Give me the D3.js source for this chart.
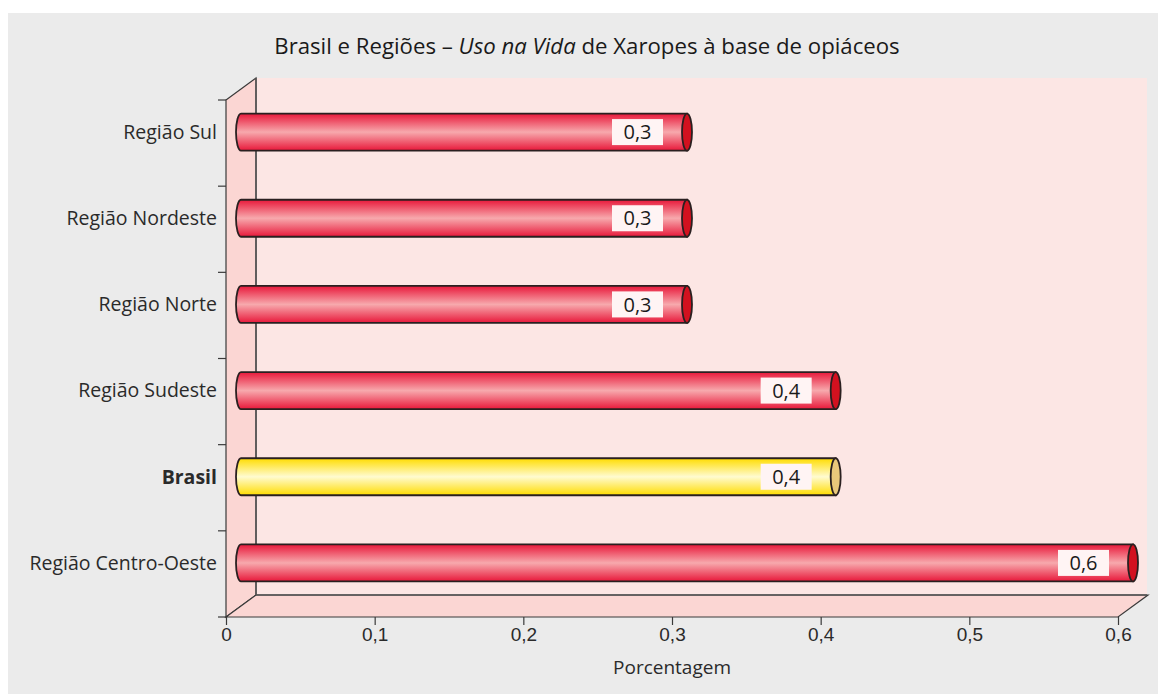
<!DOCTYPE html>
<html>
<head>
<meta charset="utf-8">
<script src="https://cdn.jsdelivr.net/npm/d3@7"></script>
<style>
  body { margin: 0; background: #fff; }
  svg { display: block; font-family: "Open Sans", "Noto Sans", sans-serif; }
</style>
</head>
<body>
<div id="chart"></div>
<script>
// 1: DATA
const categories = ["Região Sul", "Região Nordeste", "Região Norte", "Região Sudeste", "Brasil", "Região Centro-Oeste"];
const values = [0.3, 0.3, 0.3, 0.4, 0.4, 0.6];
const highlight = ["Brasil"];
const xTicks = [0, 0.1, 0.2, 0.3, 0.4, 0.5, 0.6];

// 2: LAYOUT
const W = 1158, H = 694;
const plot = { left: 226, right: 1118, top: 100, bottom: 617 };
const depth = { dx: 30, dy: -22 };

const svg = d3.select("#chart").append("svg")
    .attr("width", W)
    .attr("height", H);

svg.append("rect")
    .attr("x", 8).attr("y", 13)
    .attr("width", W - 8).attr("height", H - 13)
    .attr("fill", "#ebebeb");

// 3: SCALES
const xScale = d3.scaleLinear().domain([0, 0.6]).range([plot.left, plot.right]);
const yScale = d3.scaleBand().domain(categories).range([plot.top, plot.bottom]);

// 4: 3D WALLS
const bx = depth.dx, by = depth.dy;
// back wall
svg.append("rect")
    .attr("x", plot.left + bx).attr("y", plot.top + by)
    .attr("width", 1147 - (plot.left + bx))
    .attr("height", plot.bottom - plot.top)
    .attr("fill", "#fce6e4");
// left side wall
svg.append("path")
    .attr("d", `M${plot.left},${plot.top} L${plot.left + bx},${plot.top + by} L${plot.left + bx},${plot.bottom + by} L${plot.left},${plot.bottom} Z`)
    .attr("fill", "#fbd6d3")
    .attr("stroke", "#3a3a3a").attr("stroke-width", 1.2);
// floor
svg.append("path")
    .attr("d", `M${plot.left},${plot.bottom} L${plot.left + bx},${plot.bottom + by} L${plot.right + bx},${plot.bottom + by} L${plot.right},${plot.bottom} Z`)
    .attr("fill", "#fbd6d3")
    .attr("stroke", "#3a3a3a").attr("stroke-width", 1.2);
svg.append("line")
    .attr("x1", plot.left + bx).attr("x2", plot.left + bx)
    .attr("y1", plot.top + by).attr("y2", plot.bottom + by)
    .attr("stroke", "#555").attr("stroke-width", 1.5);
svg.append("line")
    .attr("x1", plot.left + bx).attr("x2", 1147)
    .attr("y1", plot.bottom + by).attr("y2", plot.bottom + by)
    .attr("stroke", "#555").attr("stroke-width", 1.5);

// 5: AXES
svg.append("g").selectAll("line")
    .data(d3.range(categories.length + 1))
    .join("line")
    .attr("x1", plot.left - 8).attr("x2", plot.left)
    .attr("y1", i => plot.top + i * yScale.step())
    .attr("y2", i => plot.top + i * yScale.step())
    .attr("stroke", "#3a3a3a").attr("stroke-width", 1.2);

const fmt = d => d3.format(".1f")(d).replace(".", ",");
const xAxis = d3.axisBottom(xScale).tickValues(xTicks).tickSize(8).tickPadding(3)
    .tickFormat(d => d === 0 ? "0" : fmt(d));
const xAxisG = svg.append("g").attr("transform", `translate(0,${plot.bottom})`).call(xAxis);
xAxisG.select(".domain").remove();
xAxisG.selectAll("line").attr("stroke", "#3a3a3a").attr("stroke-width", 1.2);
xAxisG.selectAll("text").attr("font-size", 19).attr("fill", "#2a2a2a").attr("font-family", "inherit");

// category labels
svg.append("g").selectAll("text")
    .data(categories)
    .join("text")
    .attr("x", 217)
    .attr("y", d => yScale(d) + yScale.bandwidth() / 2 + by / 2)
    .attr("dy", "0.35em")
    .attr("text-anchor", "end")
    .attr("font-size", 19.5)
    .attr("font-weight", d => highlight.includes(d) ? "bold" : "normal")
    .attr("fill", "#2a2a2a")
    .text(d => d);

// 6: GRADIENTS
const defs = svg.append("defs");
function grad(id, edge, mid) {
    const g = defs.append("linearGradient").attr("id", id)
        .attr("x1", 0).attr("x2", 0).attr("y1", 0).attr("y2", 1);
    g.append("stop").attr("offset", "0%").attr("stop-color", edge);
    g.append("stop").attr("offset", "50%").attr("stop-color", mid);
    g.append("stop").attr("offset", "100%").attr("stop-color", edge);
}
grad("gRed", "#e8183a", "#f7a9ad");
grad("gYellow", "#ffdc00", "#fffbd0");

// 7: CYLINDERS
const barH = 37, rx = 5;
const bars = svg.append("g").selectAll("g")
    .data(categories.map((c, i) => ({ c, v: values[i] })))
    .join("g");

bars.each(function (d) {
    const g = d3.select(this);
    const yc = yScale(d.c) + yScale.bandwidth() / 2 + by / 2;
    const x0 = xScale(0) + bx / 2;
    const x1 = xScale(d.v) + bx / 2;
    const y0 = yc - barH / 2, y1 = yc + barH / 2;
    const hl = highlight.includes(d.c);
    g.append("path")
        .attr("d", `M${x0},${y0} L${x1},${y0} L${x1},${y1} L${x0},${y1} A${rx},${barH / 2} 0 0 1 ${x0},${y0} Z`)
        .attr("fill", hl ? "url(#gYellow)" : "url(#gRed)")
        .attr("stroke", "#2a2020").attr("stroke-width", 1.8);
    g.append("ellipse")
        .attr("cx", x1).attr("cy", yc)
        .attr("rx", rx).attr("ry", barH / 2)
        .attr("fill", hl ? "#e9c87a" : "#d2111f")
        .attr("stroke", "#2a2020").attr("stroke-width", 1.8);
    // value label
    const lw = 51, lh = 26;
    g.append("rect")
        .attr("x", x1 - 24 - lw).attr("y", yc - lh / 2)
        .attr("width", lw).attr("height", lh)
        .attr("fill", "#fff4f4");
    g.append("text")
        .attr("x", x1 - 24 - lw / 2).attr("y", yc)
        .attr("dy", "0.36em")
        .attr("text-anchor", "middle")
        .attr("font-size", 20)
        .attr("fill", "#1a1a1a")
        .text(fmt(d.v));
});

// 8: TITLES
const title = svg.append("text")
    .attr("x", 587).attr("y", 54)
    .attr("text-anchor", "middle")
    .attr("font-size", 22.2)
    .attr("fill", "#1a1a1a");
title.append("tspan").text("Brasil e Regiões – ");
title.append("tspan").attr("font-style", "italic").text("Uso na Vida");
title.append("tspan").text(" de Xaropes à base de opiáceos");

svg.append("text")
    .attr("x", (plot.left + plot.right) / 2)
    .attr("y", 674)
    .attr("text-anchor", "middle")
    .attr("font-size", 19)
    .attr("fill", "#2a2a2a")
    .text("Porcentagem");
</script>
</body>
</html>
